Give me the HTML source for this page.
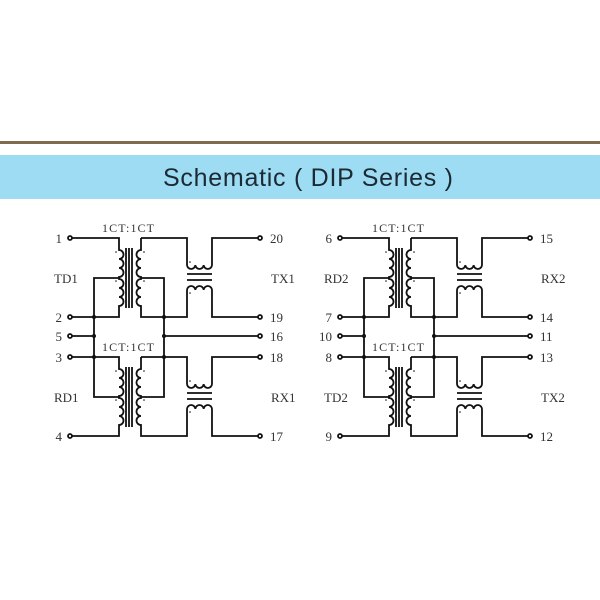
<!DOCTYPE html>
<html><head><meta charset="utf-8"><style>
html,body{margin:0;padding:0;background:#fff;width:600px;height:600px;overflow:hidden}
</style></head><body>
<svg width="600" height="600" viewBox="0 0 600 600" xmlns="http://www.w3.org/2000/svg">
<rect x="0" y="141" width="600" height="3" fill="#806a4e"/>
<rect x="0" y="155" width="600" height="44" fill="#9ddcf3"/>
<text x="308" y="186" text-anchor="middle" font-family="Liberation Sans, sans-serif" font-size="25" fill="#1c2a33" textLength="290">Schematic ( DIP Series )</text>
<defs>
<g id="unit" fill="none" stroke="#111" stroke-width="1.8">
 <path d="M72,238 H119 V250 a4.5,4.5 0 0 1 0,9 a4.5,4.5 0 0 1 0,9 a4.5,4.5 0 0 1 0,9 V279 a4.5,4.5 0 0 1 0,9 a4.5,4.5 0 0 1 0,9 a4.5,4.5 0 0 1 0,9 V317 H72"/>
 <path d="M126,248 V308 M129,248 V308 M132,248 V308"/>
 <path d="M141,238 H187 V265 a4.17,4.17 0 0 0 8.33,0 a4.17,4.17 0 0 0 8.33,0 a4.17,4.17 0 0 0 8.33,0 V238 H258"/>
 <path d="M141,238 V250 a4.5,4.5 0 0 0 0,9 a4.5,4.5 0 0 0 0,9 a4.5,4.5 0 0 0 0,9 V279 a4.5,4.5 0 0 0 0,9 a4.5,4.5 0 0 0 0,9 a4.5,4.5 0 0 0 0,9 V317 H187 V290 a4.17,4.17 0 0 1 8.33,0 a4.17,4.17 0 0 1 8.33,0 a4.17,4.17 0 0 1 8.33,0 V317 H258"/>
 <path d="M187,274 H212 M187,280 H212"/>
 <circle cx="70" cy="238" r="2" fill="#fff"/>
 <circle cx="260" cy="238" r="2" fill="#fff"/>
 <circle cx="70" cy="317" r="2" fill="#fff"/>
 <circle cx="260" cy="317" r="2" fill="#fff"/>
 <g fill="#111" stroke="none">
  <circle cx="116" cy="252" r="0.8"/><circle cx="116" cy="281" r="0.8"/>
  <circle cx="144" cy="252" r="0.8"/><circle cx="144" cy="281" r="0.8"/>
  <circle cx="190" cy="262" r="0.8"/><circle cx="190" cy="293" r="0.8"/>
 </g>
</g>
<g id="ctr" fill="none" stroke="#111" stroke-width="1.8">
 <path d="M119,278 H94 V397 H119 M141,278 H164 V397 H141"/>
 <path d="M72,336 H94 M164,336 H258"/>
 <circle cx="70" cy="336" r="2" fill="#fff"/>
 <circle cx="260" cy="336" r="2" fill="#fff"/>
 <g fill="#111" stroke="none">
  <circle cx="94" cy="317" r="2"/><circle cx="94" cy="336" r="2"/><circle cx="94" cy="357" r="2"/>
  <circle cx="164" cy="317" r="2"/><circle cx="164" cy="336" r="2"/><circle cx="164" cy="357" r="2"/>
 </g>
</g>
</defs>
<use href="#unit"/><use href="#unit" transform="translate(0,119)"/><use href="#ctr"/>
<use href="#unit" transform="translate(270,0)"/><use href="#unit" transform="translate(270,119)"/><use href="#ctr" transform="translate(270,0)"/>
<g font-family="Liberation Serif, serif" font-size="13" fill="#333">
 <text x="128" y="232" text-anchor="middle" font-size="12" textLength="52">1CT:1CT</text>
 <text x="128" y="351" text-anchor="middle" font-size="12" textLength="52">1CT:1CT</text>
 <text x="398" y="232" text-anchor="middle" font-size="12" textLength="52">1CT:1CT</text>
 <text x="398" y="351" text-anchor="middle" font-size="12" textLength="52">1CT:1CT</text>
 <g text-anchor="end">
  <text x="62" y="243">1</text><text x="62" y="322">2</text><text x="62" y="341">5</text><text x="62" y="362">3</text><text x="62" y="441">4</text>
  <text x="332" y="243">6</text><text x="332" y="322">7</text><text x="332" y="341">10</text><text x="332" y="362">8</text><text x="332" y="441">9</text>
 </g>
 <text x="270" y="243">20</text><text x="270" y="322">19</text><text x="270" y="341">16</text><text x="270" y="362">18</text><text x="270" y="441">17</text>
 <text x="540" y="243">15</text><text x="540" y="322">14</text><text x="540" y="341">11</text><text x="540" y="362">13</text><text x="540" y="441">12</text>
 <text x="54" y="283">TD1</text><text x="54" y="402">RD1</text>
 <text x="271" y="283">TX1</text><text x="271" y="402">RX1</text>
 <text x="324" y="283">RD2</text><text x="324" y="402">TD2</text>
 <text x="541" y="283">RX2</text><text x="541" y="402">TX2</text>
</g>
</svg>
</body></html>
